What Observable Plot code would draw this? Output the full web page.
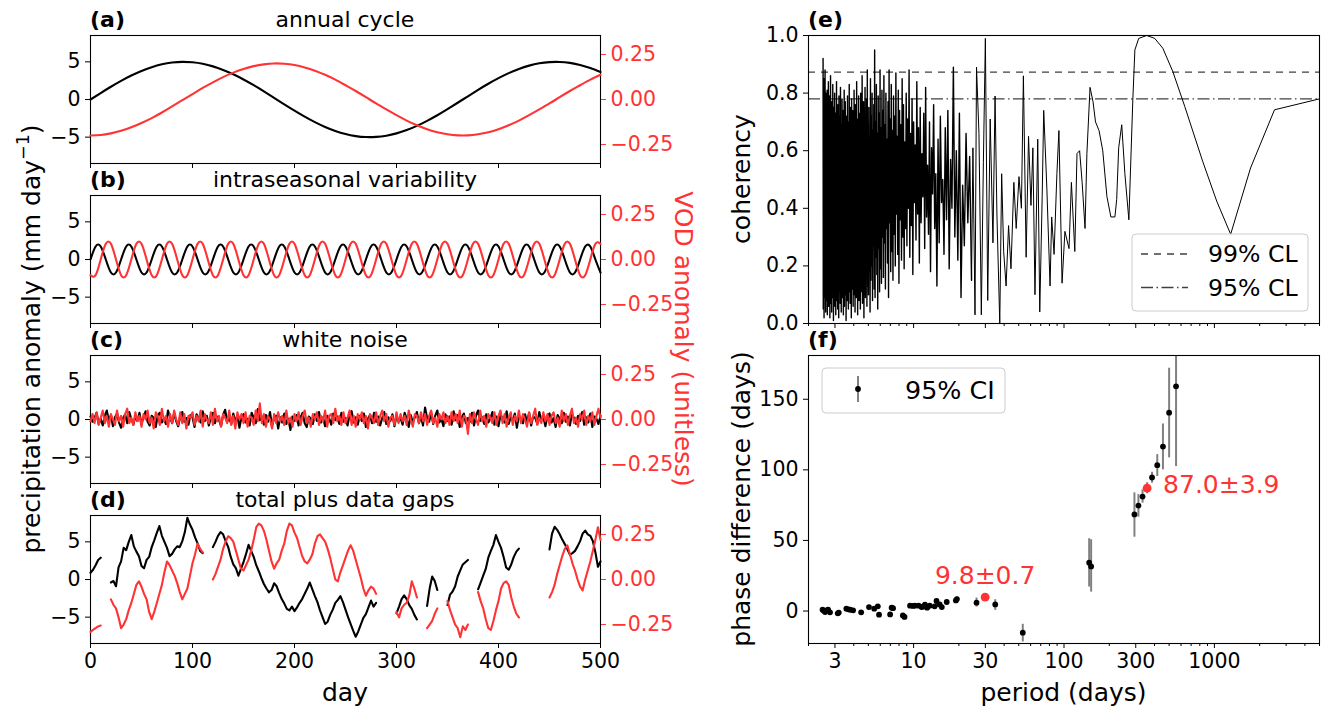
<!DOCTYPE html>
<html><head><meta charset="utf-8">
<script src="https://cdn.jsdelivr.net/npm/d3@7"></script>
<script src="https://cdn.jsdelivr.net/npm/@observablehq/plot@0.6"></script>
<style>
body{margin:0;background:#fff;}
#fig{position:relative;width:1322px;height:711px;overflow:hidden;background:#fff;font-family:"DejaVu Sans",sans-serif;}
</style></head><body><div id="fig"></div><script>
// ---------------- data ----------------
const dayTicks = [0, 100, 200, 300, 400, 500];
const precipTicks = [-5, 0, 5];
const vodTicks = [-0.25, 0, 0.25];
const cohTicks = [0, 0.2, 0.4, 0.6, 0.8, 1.0];
const phaseTicks = [0, 50, 100, 150];
const periodTicks = [3, 10, 30, 100, 300, 1000];
const periodMinorTicks = [2, 4, 5, 6, 7, 8, 9, 20, 40, 50, 60, 70, 80, 90, 200, 400, 500, 600, 700, 800, 900, 2000, 3000, 4000, 5000];

// (a) annual cycle, every 10 days
const annualDays = d3.range(0, 501, 10);
const annualPrecip = [0,0.86,1.69,2.47,3.18,3.79,4.29,4.67,4.91,5.00,4.94,4.74,4.40,3.93,3.35,2.66,1.90,1.07,0.22,-0.64,-1.48,-2.28,-3.01,-3.65,-4.18,-4.59,-4.86,-4.99,-4.97,-4.81,-4.50,-4.06,-3.50,-2.83,-2.09,-1.28,-0.43,0.43,1.28,2.09,2.83,3.50,4.06,4.50,4.81,4.97,4.99,4.86,4.59,4.18,3.65];
const annualVod = [-0.200,-0.197,-0.188,-0.174,-0.154,-0.130,-0.103,-0.072,-0.038,-0.004,0.030,0.064,0.095,0.124,0.149,0.169,0.185,0.195,0.200,0.198,0.191,0.178,0.160,0.137,0.110,0.079,0.047,0.013,-0.022,-0.055,-0.087,-0.117,-0.143,-0.165,-0.182,-0.193,-0.199,-0.199,-0.193,-0.182,-0.165,-0.143,-0.117,-0.087,-0.055,-0.022,0.013,0.047,0.079,0.110,0.137];

// (b) intraseasonal, every 5 days
const intraDays = d3.range(0, 501, 5);
const intraPrecip = [0,1.73,1.73,0,-1.73,-1.73,0,1.73,1.73,0,-1.73,-1.73,0,1.73,1.73,0,-1.73,-1.73,0,1.73,1.73,0,-1.73,-1.73,0,1.73,1.73,0,-1.73,-1.73,0,1.73,1.73,0,-1.73,-1.73,0,1.73,1.73,0,-1.73,-1.73,0,1.73,1.73,0,-1.73,-1.73,0,1.73,1.73,0,-1.73,-1.73,0,1.73,1.73,0,-1.73,-1.73,0,1.73,1.73,0,-1.73,-1.73,0,1.73,1.73,0,-1.73,-1.73,0,1.73,1.73,0,-1.73,-1.73,0,1.73,1.73,0,-1.73,-1.73,0,1.73,1.73,0,-1.73,-1.73,0,1.73,1.73,0,-1.73,-1.73,0,1.73,1.73,0,-1.73];
const intraVod = [-0.087,-0.087,0,0.087,0.087,0,-0.087,-0.087,0,0.087,0.087,0,-0.087,-0.087,0,0.087,0.087,0,-0.087,-0.087,0,0.087,0.087,0,-0.087,-0.087,0,0.087,0.087,0,-0.087,-0.087,0,0.087,0.087,0,-0.087,-0.087,0,0.087,0.087,0,-0.087,-0.087,0,0.087,0.087,0,-0.087,-0.087,0,0.087,0.087,0,-0.087,-0.087,0,0.087,0.087,0,-0.087,-0.087,0,0.087,0.087,0,-0.087,-0.087,0,0.087,0.087,0,-0.087,-0.087,0,0.087,0.087,0,-0.087,-0.087,0,0.087,0.087,0,-0.087,-0.087,0,0.087,0.087,0,-0.087,-0.087,0,0.087,0.087,0,-0.087,-0.087,0,0.087,0.087];

// (c) white noise, every 2 days
const noiseDays = d3.range(0, 501, 2);
const noisePrecip = [0.4,-0.3,0.2,0.9,-0.6,0.1,-0.8,0.5,1.2,-0.2,0.6,-0.9,0.3,0.8,-0.4,-1.1,0.2,0.7,-0.5,1.0,0.1,-0.7,0.4,-0.2,0.9,
-0.6,0.3,1.1,-0.3,-0.8,0.5,0.2,-1.0,0.6,0.9,-0.4,0.1,-0.6,1.2,0.3,-0.5,0.8,-0.2,-0.9,0.4,1.0,-0.3,0.2,-0.7,0.6,
0.3,-1.0,0.7,0.1,-0.4,1.1,-0.2,0.5,-0.8,0.2,0.9,-0.5,0.4,-0.1,-0.9,0.6,1.3,-0.3,0.2,-0.6,0.8,-0.2,0.5,-1.1,0.3,
0.7,-0.4,0.1,-0.8,0.9,0.2,-0.5,1.4,-0.1,0.4,-0.7,0.6,-0.3,1.0,-0.9,0.2,0.5,-1.2,0.3,-0.4,0.8,-0.6,0.1,-1.4,0.4,
-0.2,0.6,-0.8,0.3,0.9,-0.5,-1.0,0.4,0.1,-0.6,0.7,-0.2,1.0,-0.4,0.3,-0.9,0.5,0.2,-0.7,0.8,-0.1,0.4,-0.6,0.9,-0.3,
0.2,-0.8,0.6,1.1,-0.4,0.3,-0.7,0.5,-0.2,0.8,-1.0,0.1,0.6,-0.5,0.9,-0.3,0.4,-0.8,0.2,1.0,-0.6,0.3,-0.2,0.7,-0.9,
0.5,-0.3,0.2,-0.7,0.9,0.1,-1.0,0.6,-0.4,0.3,1.0,-0.5,0.4,-0.8,1.6,0.2,-0.3,0.9,-0.6,0.5,1.2,-0.4,0.1,-0.9,0.7,
-0.2,0.4,-0.7,1.1,-0.1,0.6,-1.0,0.3,0.8,-0.5,0.2,-0.3,0.9,-0.8,0.5,1.2,-0.2,0.3,-0.6,0.7,-0.4,0.1,1.0,-0.7,0.4,
-0.9,0.6,0.2,-0.4,1.1,-0.6,0.3,-0.2,0.8,-1.1,0.5,0.1,-0.5,0.7,-0.3,0.9,-0.8,0.4,0.2,-0.6,1.0,-0.1,0.3,-0.9,0.5,
0.8,-0.4,0.2,-1.0,0.6,0.1,-0.5,0.9,-0.3,0.4,-0.8,0.7,0.2,-0.6,0.5,-0.2,1.0,-0.7,0.3,-0.4,0.8,-1.0,0.4,0.1,-0.6,
0.5];
const noiseVod = [-0.01,0.03,-0.02,0.04,-0.03,0.01,0.05,-0.02,0.02,-0.04,0.03,0.00,-0.03,0.05,-0.01,0.02,-0.04,0.03,0.06,-0.02,0.01,-0.03,0.04,-0.01,0.02,
-0.04,0.03,0.00,0.05,-0.02,0.01,-0.05,0.04,0.02,-0.03,0.06,-0.01,0.02,-0.04,0.03,-0.02,0.05,0.00,-0.03,0.04,-0.02,0.03,-0.05,0.02,0.01,
0.04,-0.03,0.02,-0.01,0.05,-0.04,0.03,0.00,-0.02,0.04,-0.03,0.06,-0.01,0.02,-0.04,0.03,0.01,-0.02,0.05,-0.03,0.02,-0.05,0.04,0.00,0.03,
-0.02,0.04,-0.04,0.02,0.01,-0.03,0.05,-0.01,0.09,-0.02,0.03,-0.04,0.02,0.00,-0.05,0.03,-0.02,0.04,-0.01,0.02,-0.03,0.05,-0.02,0.01,-0.04,
0.03,-0.01,0.04,-0.03,0.02,0.05,-0.02,0.01,-0.04,0.03,0.00,0.04,-0.03,0.02,-0.01,0.05,-0.04,0.02,0.03,-0.02,0.06,-0.01,0.02,-0.03,0.04,
-0.02,0.01,0.05,-0.03,0.02,-0.04,0.03,0.00,0.04,-0.02,0.02,-0.05,0.03,0.01,-0.02,0.04,-0.03,0.02,0.05,-0.01,0.03,-0.04,0.01,0.02,-0.03,
0.04,-0.02,0.03,-0.01,0.02,-0.03,0.05,0.00,-0.04,0.03,0.02,-0.02,0.04,-0.01,0.03,-0.03,0.02,0.05,-0.02,0.01,-0.04,0.03,0.00,0.04,-0.02,
0.02,-0.03,0.04,-0.01,0.03,-0.02,0.05,-0.04,0.02,0.01,-0.08,0.03,-0.02,0.04,0.00,-0.03,0.05,-0.01,0.02,-0.04,0.03,0.01,-0.02,0.04,-0.03,
0.02,0.05,-0.02,0.03,-0.04,0.01,0.04,-0.03,0.02,-0.01,0.05,-0.02,0.03,0.00,-0.04,0.04,-0.02,0.02,0.06,-0.03,0.01,-0.02,0.04,-0.01,0.03,
-0.03,0.02,0.04,-0.02,0.01,-0.04,0.05,-0.01,0.03,-0.03,0.02,0.06,-0.02,0.01,-0.04,0.03,0.00,0.05,-0.03,0.02,-0.01,0.04,-0.03,0.02,0.06,
0.01];

// (d) total plus data gaps, every 2.5 days (null = gap)
const gapDays = d3.range(0, 500.1, 2.5);
const gapPrecip = [0.9,1.3,1.9,2.6,2.9,null,null,null,-0.4,-0.2,-0.9,1.6,2.4,4.2,3.9,5.0,5.9,4.4,3.7,3.1,
1.8,1.5,2.6,3.0,4.3,5.2,6.2,7.1,5.8,5.0,4.2,3.1,3.4,4.0,4.4,4.3,5.1,6.3,8.2,7.3,
6.6,5.6,4.8,3.8,3.5,null,null,null,4.3,5.0,5.8,6.3,6.0,5.1,4.3,3.0,2.0,1.5,0.5,1.4,
2.3,3.4,4.6,3.8,3.0,1.9,1.1,0.2,-0.6,-1.2,-1.7,-1.4,-0.5,-0.9,-1.8,-2.6,-3.2,-3.9,-4.1,-3.6,
-4.2,-3.7,-3.1,-2.6,-1.9,-1.2,-0.4,-1.3,-2.2,-3.0,-4.1,-5.0,-5.9,-5.6,-4.7,-4.0,-3.1,-2.7,-2.2,-3.0,
-4.0,-5.0,-5.9,-6.8,-7.6,-6.9,-6.0,-5.1,-4.6,-3.7,-2.8,-3.6,-3.1,null,null,null,null,null,null,null,
-4.5,-3.6,-2.6,-2.1,-2.6,-3.4,-3.9,-4.7,-5.3,null,null,null,-3.5,-1.2,0.4,-0.2,-1.4,null,null,null,
-3.4,-2.0,-1.6,-0.9,0.4,1.2,2.0,2.3,2.6,null,null,null,-1.3,-0.4,0.5,1.4,2.9,3.8,4.6,5.9,
5.0,4.2,3.0,1.6,1.3,2.0,3.0,3.7,4.1,null,null,null,null,null,null,null,null,null,null,null,
4.0,6.1,7.0,6.6,6.0,5.3,4.7,4.0,3.3,3.5,3.8,4.4,5.1,6.1,6.5,6.0,5.8,5.1,3.6,1.7,
2.4];
const gapVod = [-0.29,-0.28,-0.27,-0.26,-0.255,null,null,null,-0.11,-0.14,-0.16,-0.21,-0.27,-0.25,-0.22,-0.17,-0.13,-0.08,-0.03,-0.01,
-0.04,-0.08,-0.11,-0.18,-0.22,-0.18,-0.13,-0.08,-0.03,0.04,0.10,0.08,0.05,0.02,-0.02,-0.07,-0.11,-0.08,-0.05,0.02,
0.09,0.14,0.20,0.17,0.15,null,null,null,0.00,0.03,0.07,0.11,0.17,0.21,0.24,0.23,0.21,0.16,0.11,0.06,
0.05,0.08,0.11,0.16,0.22,0.29,0.31,0.30,0.27,0.22,0.16,0.10,0.06,0.09,0.11,0.16,0.20,0.27,0.31,0.30,
0.26,0.23,0.18,0.13,0.10,0.09,0.11,0.14,0.20,0.24,0.25,0.23,0.21,0.17,0.12,0.06,0.00,-0.01,0.04,0.08,
0.12,0.16,0.19,0.16,0.11,0.06,0.01,-0.05,-0.09,-0.06,-0.04,-0.05,-0.08,null,null,null,null,null,null,null,
-0.18,-0.21,-0.16,-0.14,-0.13,-0.09,-0.01,-0.05,-0.10,null,null,null,-0.27,-0.25,-0.23,-0.19,-0.16,null,null,null,
-0.12,-0.17,-0.21,-0.25,-0.27,-0.32,-0.26,-0.28,-0.25,null,null,null,-0.07,-0.12,-0.16,-0.22,-0.27,-0.28,-0.23,-0.17,
-0.12,-0.05,-0.02,-0.01,-0.03,-0.10,-0.15,-0.19,-0.21,null,null,null,null,null,null,null,null,null,null,null,
-0.10,-0.07,-0.03,0.03,0.08,0.13,0.17,0.19,0.14,0.09,0.05,0.00,-0.04,-0.06,0.00,0.05,0.10,0.16,0.22,0.29,
0.22];

// (e) coherency: dense short-period part on frequency index k = 2000 - 6 i (period = 5000 / k)
const cohDense = [.92,.05,.71,.12,.85,.02,.66,.30,.78,.09,.88,.15,.60,.04,.80,.22,.74,.08,.69,.13,
.81,.03,.58,.19,.76,.10,.84,.06,.63,.27,.79,.11,.72,.02,.67,.16,.86,.07,.55,.21,
.77,.04,.70,.14,.62,.09,.83,.18,.58,.01,.75,.12,.68,.25,.80,.06,.64,.10,.73,.03,
.61,.17,.84,.08,.57,.13,.71,.05,.76,.22,.66,.02,.79,.11,.59,.15,.72,.07,.82,.19,
.64,.04,.69,.12,.78,.09,.56,.20,.74,.03,.67,.14,.81,.06,.60,.18,.77,.10,.65,.01,
.72,.13,.58,.08,.79,.16,.63,.05,.70,.11,.83,.21,.57,.07,.75,.14,.66,.02,.78,.12,
.62,.18,.74,.06,.69,.10,.81,.15,.60,.04,.76,.20,.64,.09,.84,.13,.71,.03,.67,.17,
.79,.08,.58,.22,.73,.05,.80,.14,.66,.11,.86,.07,.61,.19,.77,.02,.70,.16,.82,.09,
.64,.24,.78,.06,.88,.13,.69,.10,.75,.18,.62,.04,.85,.15,.72,.20,.80,.08,.67,.27,
.76,.12,.95,.09,.70,.23,.83,.17,.66,.05,.79,.26,.73,.11,.88,.19,.68,.14,.81,.30,
.74,.16,.86,.28,.69,.12,.80,.33,.64,.21,.77,.09,.88,.35,.71,.18,.83,.25,.67,.15,
.79,.31,.72,.20,.87,.38,.65,.24,.81,.14,.74,.36,.69,.22,.85,.30,.76,.19,.63,.33,
.80,.27,.71,.40,.88,.23,.66,.34,.78,.17,.70,.42,.62,.29,.84,.38,.68,.21,.75,.35,
.59,.44,.73,.26,.82,.37,.55,.31,.70,.18,.61,.45,.76,.33,.52,.13,.64,.28,.72,.42,
.50,.24,.68,.36,.74,.19,.57,.40,.89,.30,.60,.22,.73,.09,.48,.27,.66,.35,.58,.15];
const cohPeriod = [24.8,25.6,26.2,27.2,28.2,29.1,30.0,31.1,32.3,33.7,34.8,35.8,37.4,38.5,39.7,41.2,42.8,44.4,46.4,48.1,50.2,52.1,53.7,56.0,58.1,60.3,62.1,64.1,66.9,69.0,71.6,73.3,76.9,80.8,82.8,85.9,89.7,92.5,97.1,101.4,108,112,118,122,127,132,138,142,149,156,162,171,181,193,205,218,224,231,242,254,270,287,296,314,355,401,454,529,635,836,1036,1283,1740,2510,5000];
const cohValue = [.61,.03,.89,.66,.03,.56,.99,.08,.71,.28,.79,.38,.00,.52,.25,.13,.34,.19,.49,.33,.51,.40,.86,.23,.65,.41,.61,.10,.64,.04,.44,.74,.47,.13,.37,.24,.52,.67,.14,.32,.26,.49,.25,.59,.60,.49,.33,.59,.82,.77,.70,.67,.60,.44,.37,.37,.43,.61,.69,.52,.36,.78,.95,.99,1.00,.99,.956,.875,.754,.563,.425,.31,.54,.742,.78];
const cl99 = 0.873, cl95 = 0.78;

// (f) phase difference
const phasePeriod = [2.48,2.53,2.58,2.64,2.70,2.78,3.13,3.18,3.57,3.68,3.79,3.96,4.48,5.05,5.47,5.78,5.89,6.98,7.14,7.30,8.48,8.70,9.47,9.90,10.2,10.8,11.3,11.6,11.9,12.3,12.8,13.8,14.2,14.9,15.4,16.6,19.1,19.4,26.2,34.9,53.2,147,151.5,294,312.5,333,385,417,455,500,556];
const phaseValue = [0.9,0.2,-0.7,0.5,0.9,-0.9,-1.6,-1.1,1.7,1.2,0.9,0.5,-0.9,2.8,1.7,3.3,-2.6,-2.4,2.4,2.0,-3.1,-4.2,3.8,3.6,3.8,3.8,2.8,3.2,4.5,2.4,3.8,3.3,7.1,4.7,2.8,6.4,7.5,8.5,5.9,4.7,-15.3,34.2,31.6,68.4,74.7,81.1,94.6,103.3,116.5,140.5,159.2];
const phaseLo = [-0.3,-1.0,-1.9,-0.7,-0.3,-2.1,-2.8,-2.3,0.5,0.0,-0.3,-0.7,-2.1,1.6,0.5,2.1,-3.8,-3.6,1.2,0.8,-4.3,-5.6,2.6,2.4,2.6,2.6,1.6,2.0,3.3,1.2,2.6,2.1,5.9,3.5,1.6,5.2,6.3,7.0,2.8,0.5,-21.9,17.0,13.4,52.3,66.5,76.4,90.5,95.3,100.0,108.5,102.3];
const phaseHi = [2.1,1.4,0.5,1.7,2.1,0.3,-0.4,0.1,2.9,2.4,2.1,1.7,0.3,4.0,2.9,4.5,-1.4,-1.2,3.6,3.2,-1.9,-2.8,5.0,4.8,5.0,5.0,4.0,4.4,5.7,3.6,5.0,4.5,8.3,5.9,4.0,7.6,8.7,10.0,9.2,8.0,-9.4,51.2,50.5,83.7,82.5,85.8,98.3,110.8,132.5,172,190];
const hlPeriod = [29.9, 357];
const hlValue = [9.8, 87.0];
const hlLo = [9.1, 83.1];
const hlHi = [10.5, 90.9];
const hlText = ["9.8±0.7", "87.0±3.9"];

// ---------------- drawing ----------------
const FONT = '"DejaVu Sans", sans-serif';
const RED = "#ff3333";
const fig = document.getElementById("fig");
function put(el, left, top) {
  el.style.position = "absolute";
  el.style.left = left + "px";
  el.style.top = top + "px";
  el.style.maxWidth = "none";
  el.style.background = "transparent";
  fig.appendChild(el);
}
const MT = 10, MB = 40;
const baseStyle = {fontFamily: FONT, fontSize: "20.5px", color: "black", background: "transparent", overflow: "visible"};

function leftPanel(frameTop, days, black, red, curve, last) {
  const common = {
    width: 660, height: 128 + MT + MB,
    marginLeft: 90, marginRight: 60, marginTop: MT, marginBottom: MB,
    style: baseStyle
  };
  const rowsB = days.map((d, j) => ({day: d, v: black[j]}));
  const rowsR = days.map((d, j) => ({day: d, v: red[j]}));
  const pB = Plot.plot({...common,
    x: {domain: [0, 500]}, y: {domain: [-8.5, 8.5]},
    marks: [
      Plot.line(rowsB, {x: "day", y: "v", stroke: "black", strokeWidth: 2.1, curve}),
      Plot.axisY({ticks: precipTicks, tickSize: 5, tickPadding: 5, label: null, tickFormat: "d"}),
      Plot.axisX({ticks: dayTicks, tickSize: 5, tickPadding: 5, label: null, tickFormat: last ? "d" : () => ""}),
      Plot.frame({strokeWidth: 1.1})
    ]});
  const pR = Plot.plot({...common,
    x: {domain: [0, 500], axis: null}, y: {domain: [-0.355, 0.355]},
    marks: [
      Plot.line(rowsR, {x: "day", y: "v", stroke: RED, strokeWidth: 2.1, curve}),
      Plot.axisY({anchor: "right", ticks: vodTicks, tickSize: 5, tickPadding: 5, label: null, tickFormat: ".2f", color: RED})
    ]});
  put(pB, 0, frameTop - MT);
  put(pR, 0, frameTop - MT);
}

leftPanel(35, annualDays, annualPrecip, annualVod, "natural", false);
leftPanel(195, intraDays, intraPrecip, intraVod, "natural", false);
leftPanel(355, noiseDays, noisePrecip, noiseVod, "linear", false);
leftPanel(515, gapDays, gapPrecip, gapVod, "linear", true);

// right column
const rightCommon = {
  width: 622, marginLeft: 108, marginRight: 3, marginTop: MT, marginBottom: MB,
  style: baseStyle,
  x: {type: "log", domain: [2, 5000]}
};
const cohDenseRows = cohDense.map((c, i) => ({period: 5000 / (2000 - 6 * i), c}));
const cohSparseRows = [cohDenseRows[cohDenseRows.length - 1]].concat(cohPeriod.map((p, i) => ({period: p, c: cohValue[i]})));
const pE = Plot.plot({...rightCommon, height: 288 + MT + MB,
  y: {domain: [0, 1]},
  marks: [
    Plot.ruleY([cl99], {stroke: "#404040", strokeWidth: 1.3, strokeDasharray: "7,6"}),
    Plot.ruleY([cl95], {stroke: "#404040", strokeWidth: 1.3, strokeDasharray: "12,3.5,1.5,3.5"}),
    Plot.line(cohDenseRows, {x: "period", y: "c", stroke: "black", strokeWidth: 1.4}),
    Plot.line(cohSparseRows, {x: "period", y: "c", stroke: "black", strokeWidth: 1}),
    Plot.axisY({ticks: cohTicks, tickSize: 5, tickPadding: 5, label: null, tickFormat: ".1f"}),
    Plot.axisX({ticks: periodTicks, tickSize: 5, label: null, tickFormat: () => ""}),
    Plot.axisX({ticks: periodMinorTicks, tickSize: 3, label: null, tickFormat: () => ""}),
    Plot.frame({strokeWidth: 1.1})
  ]});
put(pE, 700, 35 - MT);

const phaseRows = phasePeriod.map((p, i) => ({period: p, v: phaseValue[i], lo: phaseLo[i], hi: phaseHi[i]}));
const hlRows = hlPeriod.map((p, i) => ({period: p, v: hlValue[i], lo: hlLo[i], hi: hlHi[i], label: hlText[i]}));
const pF = Plot.plot({...rightCommon, height: 288 + MT + MB,
  y: {domain: [-23, 181]},
  marks: [
    Plot.ruleX(phaseRows.concat(hlRows), {x: "period", y1: "lo", y2: "hi", stroke: "#808080", strokeWidth: 2, clip: true}),
    Plot.dot(phaseRows, {x: "period", y: "v", r: 2.9, fill: "black"}),
    Plot.dot(hlRows, {x: "period", y: "v", r: 4.4, fill: RED}),
    Plot.text(hlRows, {filter: (d, i) => i === 0, x: "period", y: "v", text: "label", fill: RED, fontSize: 25, dy: -21, textAnchor: "middle"}),
    Plot.text(hlRows, {filter: (d, i) => i === 1, x: "period", y: "v", text: "label", fill: RED, fontSize: 25, dx: 16, dy: -3, textAnchor: "start"}),
    Plot.axisY({ticks: phaseTicks, tickSize: 5, tickPadding: 5, label: null, tickFormat: "d"}),
    Plot.axisX({ticks: periodTicks, tickSize: 5, tickPadding: 5, label: null, tickFormat: "d"}),
    Plot.axisX({ticks: periodMinorTicks, tickSize: 3, label: null, tickFormat: () => ""}),
    Plot.frame({strokeWidth: 1.1})
  ]});
put(pF, 700, 355 - MT);

// ---------------- text overlay & legends ----------------
const ov = d3.select(fig).append("svg").attr("width", 1322).attr("height", 711)
  .style("position", "absolute").style("left", "0px").style("top", "0px")
  .attr("font-family", FONT);
function txt(s, x, y, o = {}) {
  const t = ov.append("text").attr("x", x).attr("y", y).text(s)
    .attr("font-size", o.size || 22).attr("text-anchor", o.anchor || "start")
    .attr("fill", o.fill || "black");
  if (o.weight) t.attr("font-weight", o.weight);
  if (o.baseline) t.attr("dominant-baseline", o.baseline);
  if (o.rotate != null) t.attr("transform", `rotate(${o.rotate},${x},${y})`);
  return t;
}
const titles = [["(a)", "annual cycle", 27], ["(b)", "intraseasonal variability", 187], ["(c)", "white noise", 347], ["(d)", "total plus data gaps", 507]];
for (const [tag, name, y] of titles) {
  txt(tag, 90, y, {weight: "bold"});
  txt(name, 345, y, {anchor: "middle"});
}
txt("(e)", 808, 27, {weight: "bold"});
txt("(f)", 808, 347, {weight: "bold"});
txt("day", 345, 701, {size: 25, anchor: "middle"});
txt("period (days)", 1063.5, 701, {size: 25, anchor: "middle"});
txt("coherency", 741, 179, {size: 25, anchor: "middle", baseline: "central", rotate: -90});
txt("phase difference (days)", 741, 499, {size: 25, anchor: "middle", baseline: "central", rotate: -90});
txt("VOD anomaly (unitless)", 683, 339, {size: 25, anchor: "middle", baseline: "central", rotate: 90, fill: RED});
const yl = ov.append("text").attr("transform", "translate(31,339) rotate(-90)")
  .attr("text-anchor", "middle").attr("font-size", 25);
yl.append("tspan").attr("dy", "0.36em").text("precipitation anomaly (mm day");
yl.append("tspan").attr("font-size", 17.5).attr("dy", "-0.62em").text("−1");
yl.append("tspan").attr("font-size", 25).attr("dy", "0.43em").text(")");

// legend (e)
ov.append("rect").attr("x", 1132).attr("y", 234).attr("width", 176).attr("height", 77).attr("rx", 4)
  .attr("fill", "white").attr("fill-opacity", 0.8).attr("stroke", "#cccccc");
ov.append("line").attr("x1", 1141).attr("x2", 1188).attr("y1", 254).attr("y2", 254)
  .attr("stroke", "#404040").attr("stroke-width", 1.3).attr("stroke-dasharray", "7,6");
ov.append("line").attr("x1", 1141).attr("x2", 1188).attr("y1", 287.5).attr("y2", 287.5)
  .attr("stroke", "#404040").attr("stroke-width", 1.3).attr("stroke-dasharray", "12,3.5,1.5,3.5");
txt("99% CL", 1208, 254, {size: 23.6, baseline: "central"});
txt("95% CL", 1208, 287.5, {size: 23.6, baseline: "central"});

// legend (f)
ov.append("rect").attr("x", 822).attr("y", 368).attr("width", 183).attr("height", 45).attr("rx", 4)
  .attr("fill", "white").attr("fill-opacity", 0.8).attr("stroke", "#cccccc");
ov.append("line").attr("x1", 858).attr("x2", 858).attr("y1", 376).attr("y2", 402)
  .attr("stroke", "#808080").attr("stroke-width", 2);
ov.append("circle").attr("cx", 858).attr("cy", 389).attr("r", 2.9).attr("fill", "black");
txt("95% CI", 905, 390, {size: 25.4, baseline: "central"});
</script></body></html>
